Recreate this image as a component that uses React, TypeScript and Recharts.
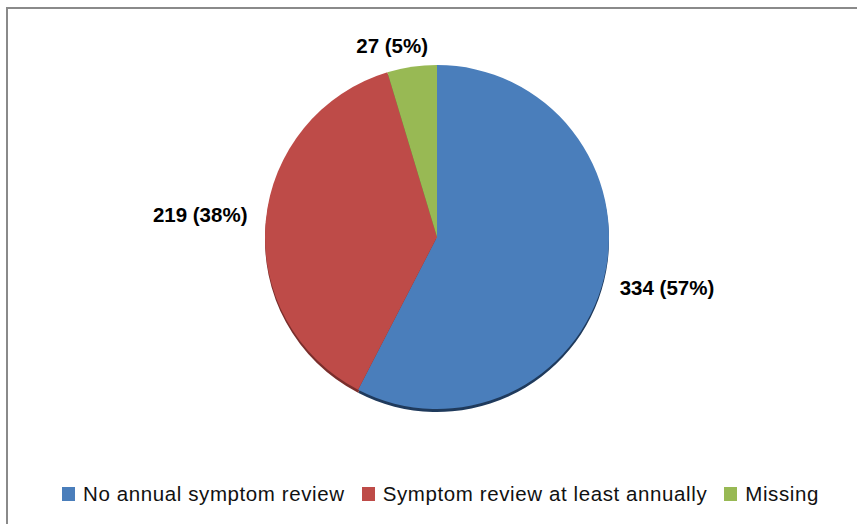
import React from 'react';
import { PieChart, Pie, Cell, Legend } from 'recharts';

const categories = ['No annual symptom review', 'Symptom review at least annually', 'Missing'];
const counts = [334, 219, 27];
const percents = [57, 38, 5];
const colors = ['#4A7EBB', '#BE4B48', '#98B954'];
const shadowColors = ['#1F3A5C', '#7A2E2C', '#5A6E33'];

const data = categories.map((name, i) => ({ name, value: counts[i], pct: percents[i] }));

const RAD = Math.PI / 180;
const FONT = "'Liberation Sans', Arial, sans-serif";

const renderLabel = (props: any) => {
  const { cx, cy, midAngle, outerRadius, index } = props;
  const text = `${counts[index]} (${percents[index]}%)`;
  const cosA = Math.cos(midAngle * RAD);
  const sinA = Math.sin(midAngle * RAD);
  const w = text.length * 10.6;
  const h = 18;
  const d = 12;
  const x = cx + (outerRadius + d) * cosA + (cosA * w) / 2 - 12 * Math.max(0, sinA) + 5 * cosA;
  const y = cy - (outerRadius + d) * sinA - (sinA * h) / 2 + 5 * cosA;
  return (
    <text x={x} y={y} textAnchor="middle" dominantBaseline="central" fill="#000" fontFamily={FONT} fontWeight="bold" fontSize={20.5}>
      {text}
    </text>
  );
};

const renderLegend = () => (
  <div style={{ display: 'flex', justifyContent: 'center', alignItems: 'center', fontFamily: FONT, fontSize: 20.5, letterSpacing: 0.6, color: '#111', width: 857, paddingLeft: 24, boxSizing: 'border-box' }}>
    {categories.map((c, i) => (
      <div key={c} style={{ display: 'flex', alignItems: 'center', marginRight: i < categories.length - 1 ? 17 : 0 }}>
        <span style={{ display: 'inline-block', width: 13, height: 14, background: colors[i], marginRight: 8 }} />
        <span>{c}</span>
      </div>
    ))}
  </div>
);

export default function App() {
  return (
    <div style={{ position: 'absolute', left: 0, top: 0, width: 857, height: 524, background: '#fff', overflow: 'hidden' }}>
      <div style={{ position: 'absolute', left: 6, top: 7, width: 900, height: 600, borderLeft: '2px solid #8a8a8a', borderTop: '2px solid #8a8a8a', boxSizing: 'border-box' }} />
      <div style={{ position: 'absolute', left: 0, top: 0 }}>
        <PieChart width={857} height={524} margin={{ top: 0, right: 0, bottom: 0, left: 0 }}>
          <Pie
            data={data}
            dataKey="value"
            nameKey="name"
            cx={437}
            cy={240}
            outerRadius={172}
            startAngle={90}
            endAngle={-270}
            stroke="none"
            isAnimationActive={false}
            legendType="none"
          >
            {data.map((d, i) => (
              <Cell key={d.name} fill={shadowColors[i]} />
            ))}
          </Pie>
          <Pie
            data={data}
            dataKey="value"
            nameKey="name"
            cx={437}
            cy={237}
            outerRadius={172}
            startAngle={90}
            endAngle={-270}
            stroke="none"
            label={renderLabel}
            labelLine={false}
            isAnimationActive={false}
          >
            {data.map((d, i) => (
              <Cell key={d.name} fill={colors[i]} />
            ))}
          </Pie>
          <Legend content={renderLegend} wrapperStyle={{ left: 0, top: 482, width: 857 }} />
        </PieChart>
      </div>
    </div>
  );
}
